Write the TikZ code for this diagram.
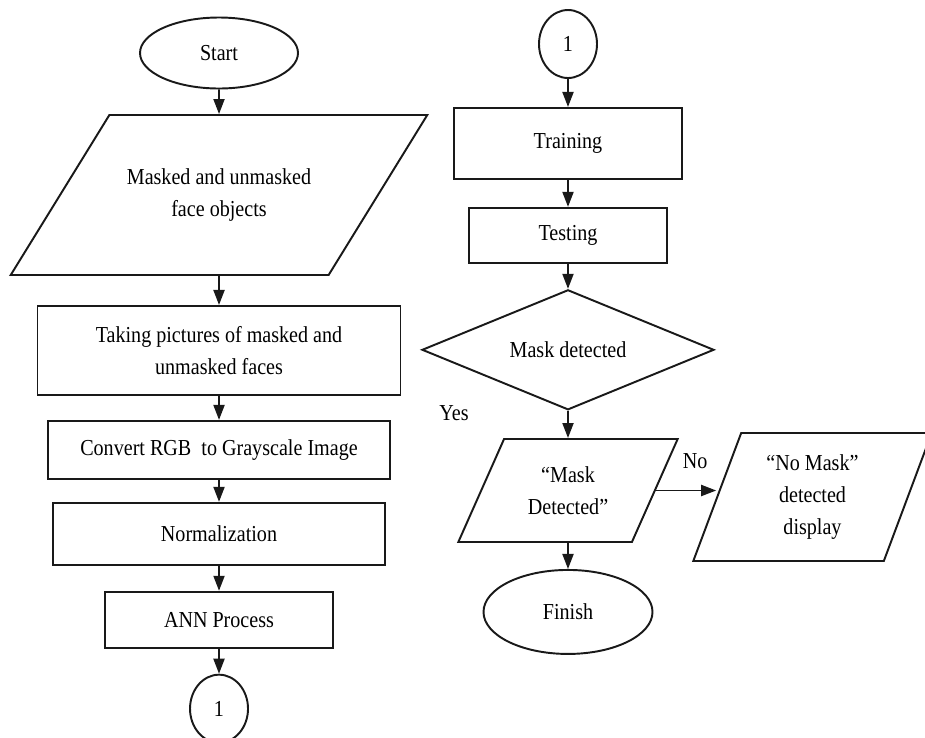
\documentclass[tikz,border=0pt]{standalone}
\usepackage{fontspec}
\setmainfont{Liberation Serif}[FakeStretch=0.88]
\usetikzlibrary{positioning,arrows.meta,shapes.geometric}
\definecolor{InkBlack}{RGB}{25,25,25}
\tikzset{
  flow/.style={-{Triangle[length=3mm,width=2.2mm]},line width=1.1pt,draw=InkBlack},
  box/.style={draw=InkBlack,line width=1.1pt,rectangle,align=center},
  termbox/.style={box,ellipse},
  connbox/.style={box,ellipse,minimum width=1.16cm,minimum height=1.36cm,inner sep=0pt},
  iobox/.style={box,trapezium,trapezium stretches},
  decbox/.style={box,diamond,aspect=2.4}
}

\begin{document}
\begin{tikzpicture}[node distance=0.54cm,font=\fontsize{13pt}{18pt}\selectfont]
  \useasboundingbox (0,0) rectangle (18.5,-14.74);

  % left column
  \node[termbox,minimum width=3.16cm,minimum height=1.42cm] (start) at (4.38,-1.06) {Start};
  \node[iobox,trapezium left angle=36,trapezium right angle=144,
    minimum width=8.34cm,minimum height=3.2cm] (faces) at (4.38,-3.9) {Masked and unmasked\\face objects};
  \node[box,below=0.58cm of faces,minimum width=7.26cm,minimum height=1.78cm] (capture) {
    Taking pictures of masked and\\unmasked faces};
  \node[box,below=0.48cm of capture,minimum width=6.84cm,minimum height=1.16cm] (gray) {Convert RGB~ to Grayscale Image};
  \node[box,below=0.44cm of gray,minimum width=6.64cm,minimum height=1.24cm] (norm) {Normalization};
  \node[box,below=0.5cm of norm,minimum width=4.56cm,minimum height=1.12cm] (ann) {ANN Process};
  \node[connbox,below=0.5cm of ann] (jumpa) {1};

  % right column
  \node[connbox] (jumpb) at (11.36,-0.88) {1};
  \node[box,below=0.56cm of jumpb,minimum width=4.56cm,minimum height=1.42cm] (train) {Training};
  \node[box,below=0.54cm of train,minimum width=3.96cm,minimum height=1.1cm] (test) {Testing};
  \node[decbox,below=0.5cm of test,minimum width=5.84cm,minimum height=2.4cm] (check) {Mask detected};
  \node[iobox,trapezium left angle=61,trapezium right angle=119,
    minimum width=4.4cm,minimum height=2.06cm] (found) at (11.36,-9.81) {“Mask\\Detected”};
  \node[termbox,below=0.52cm of found,minimum width=3.38cm,minimum height=1.68cm] (finish) {Finish};
  \node[iobox,trapezium left angle=70,trapezium right angle=110,
    minimum width=4.78cm,minimum height=2.56cm] (nomask) at (16.25,-9.94) {“No Mask”\\detected\\display};

  \draw[flow] (start) -- (faces);
  \draw[flow] (faces) -- (capture);
  \draw[flow] (capture) -- (gray);
  \draw[flow] (gray) -- (norm);
  \draw[flow] (norm) -- (ann);
  \draw[flow] (ann) -- (jumpa);

  \draw[flow] (jumpb) -- (train);
  \draw[flow] (train) -- (test);
  \draw[flow] (test) -- (check);
  \draw[flow] (check) -- node[pos=0.1,left=1.85cm] {Yes} (found);
  \draw[flow] (found) -- (finish);
  \draw[flow] (found.right side) -- node[pos=0.65,above=0.3cm] {No} (found.right side -| nomask.left side);
\end{tikzpicture}
\end{document}
